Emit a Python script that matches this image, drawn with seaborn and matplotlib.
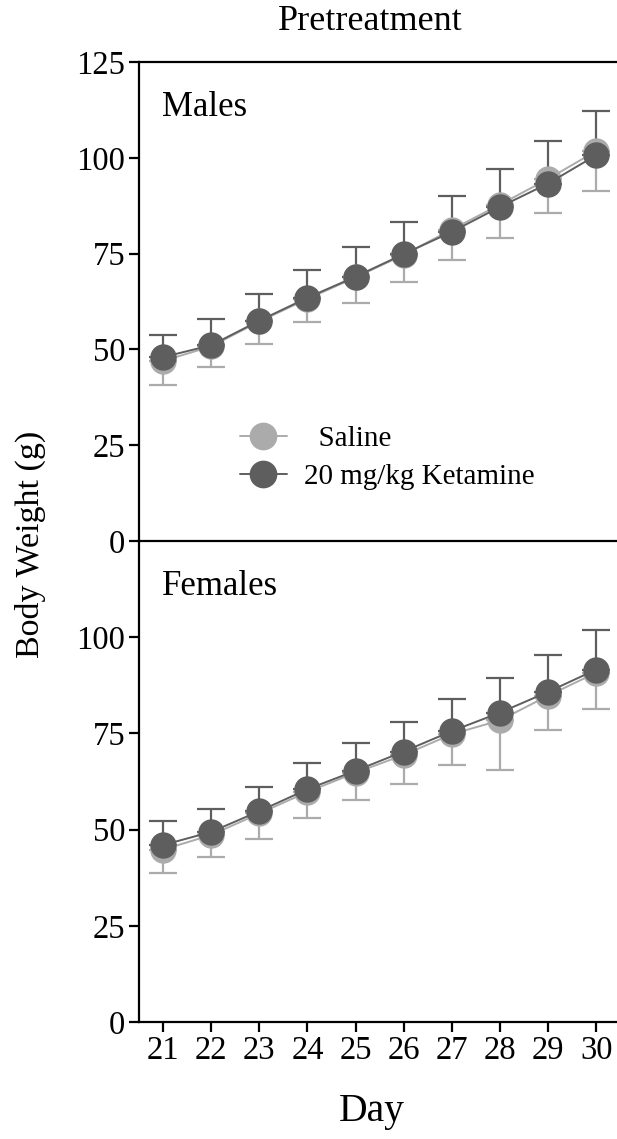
import numpy as np
import pandas as pd
import seaborn as sns
import matplotlib.pyplot as plt

# Data
days = [21, 22, 23, 24, 25, 26, 27, 28, 29, 30]
groups = ['  Saline', '20 mg/kg Ketamine']

male_saline = [47.0, 50.8, 57.3, 63.2, 68.8, 74.7, 81.3, 87.8, 94.5, 101.8]
male_saline_sd = [6.3, 5.4, 5.9, 6.1, 6.8, 7.2, 8.0, 8.8, 9.0, 10.5]
male_ketamine = [48.0, 51.1, 57.5, 63.5, 69.0, 74.9, 80.7, 87.2, 93.3, 100.7]
male_ketamine_sd = [5.8, 6.8, 7.1, 7.2, 7.8, 8.4, 9.3, 9.9, 11.2, 11.5]

female_saline = [44.8, 48.6, 54.2, 59.8, 64.8, 69.4, 74.8, 78.4, 84.8, 90.8]
female_saline_sd = [6.2, 5.8, 6.7, 6.8, 7.2, 7.5, 8.1, 12.9, 9.0, 9.5]
female_ketamine = [46.0, 49.4, 54.8, 60.5, 65.3, 70.3, 75.6, 80.4, 85.8, 91.6]
female_ketamine_sd = [6.2, 5.9, 6.2, 6.7, 7.3, 7.7, 8.3, 9.0, 9.7, 10.2]

colors = {groups[0]: '#ababab', groups[1]: '#5e5e5e'}

sns.set_style('ticks')
plt.rcParams['font.family'] = ['Liberation Serif', 'DejaVu Serif']
plt.rcParams['axes.linewidth'] = 1.6
for key in ['text.color', 'axes.labelcolor', 'xtick.color', 'ytick.color',
            'axes.edgecolor']:
    plt.rcParams[key] = 'black'

fig = plt.figure(figsize=(6.17, 11.39), dpi=100)
ax_bot = fig.add_axes([0.2253, 0.1027, 0.78, 0.4223])
ax_top = fig.add_axes([0.2253, 0.525, 0.78, 0.4205])
ax_bot.patch.set_visible(False)
ax_top.patch.set_visible(False)


def draw_panel(ax, sal, sal_sd, ket, ket_sd, label):
    df = pd.DataFrame({
        'Day': days * 2,
        'Weight': sal + ket,
        'Group': [groups[0]] * len(days) + [groups[1]] * len(days),
    })
    # one-sided error bars: saline down, ketamine up
    ax.errorbar(days, sal, yerr=[sal_sd, np.zeros(len(days))], fmt='none',
                ecolor=colors[groups[0]], elinewidth=1.6, capsize=10,
                capthick=1.6, zorder=1)
    ax.errorbar(days, ket, yerr=[np.zeros(len(days)), ket_sd], fmt='none',
                ecolor=colors[groups[1]], elinewidth=1.6, capsize=10,
                capthick=1.6, zorder=1)
    sns.lineplot(data=df, x='Day', y='Weight', hue='Group', palette=colors,
                 marker='o', markersize=19, markeredgewidth=0, linewidth=1.4,
                 ax=ax, zorder=3)
    ax.set_xlim(20.5, 30.5)
    ax.set_ylim(0, 125)
    ax.set_xlabel('')
    ax.set_ylabel('')
    ax.text(0.048, 0.94, label, transform=ax.transAxes, fontsize=25,
            va='top', ha='left')
    ax.tick_params(axis='both', labelsize=23.5, length=7, width=1.6,
                   direction='out', pad=3)
    ax.spines['right'].set_visible(False)


draw_panel(ax_top, male_saline, male_saline_sd, male_ketamine,
           male_ketamine_sd, 'Males')
draw_panel(ax_bot, female_saline, female_saline_sd, female_ketamine,
           female_ketamine_sd, 'Females')

ax_top.set_yticks([0, 25, 50, 75, 100, 125])
ax_top.set_xticks([])
ax_top.tick_params(axis='x', length=0)
ax_bot.set_yticks([0, 25, 50, 75, 100])
ax_bot.set_xticks(days)
ax_bot.spines['top'].set_visible(False)

handles, labels = ax_top.get_legend_handles_labels()
ax_top.legend(handles, labels, loc='center left',
              bbox_to_anchor=(0.155, 0.173), frameon=False, fontsize=21,
              handlelength=1.6, handletextpad=0.6, labelspacing=0.4,
              markerscale=1.05)
ax_bot.get_legend().remove()

fig.text(0.6, 0.981, 'Pretreatment', ha='center', va='center', fontsize=26)
fig.text(0.05, 0.522, 'Body Weight (g)', ha='center', va='center',
         rotation=90, fontsize=24.5)
fig.text(0.603, 0.024, 'Day', ha='center', va='center', fontsize=28.5)

fig.savefig('out.png', dpi=100)
